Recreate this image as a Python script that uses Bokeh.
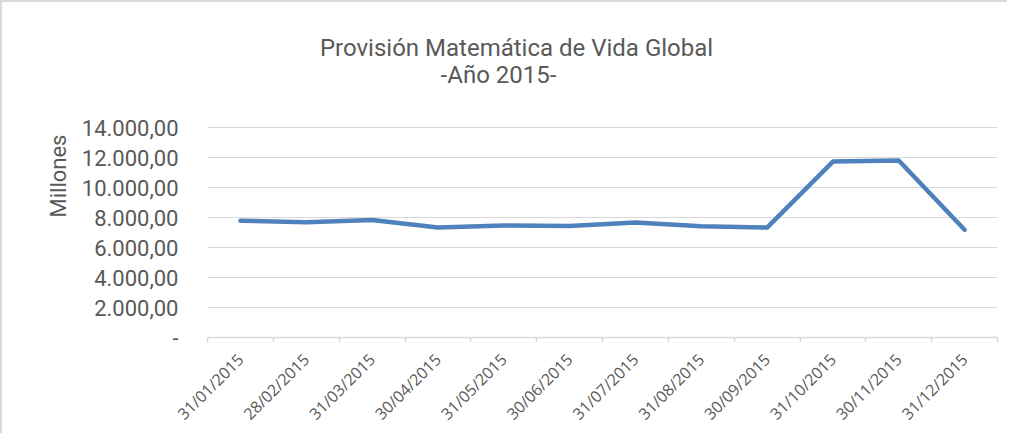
from bokeh.plotting import figure
from bokeh.models import Range1d, FixedTicker, Title, Label
from bokeh.embed import file_html
from bokeh.resources import INLINE
import math

# ---- data ----
categories = ["31/01/2015", "28/02/2015", "31/03/2015", "30/04/2015", "31/05/2015", "30/06/2015",
              "31/07/2015", "31/08/2015", "30/09/2015", "31/10/2015", "30/11/2015", "31/12/2015"]
values = [7780, 7690, 7840, 7330, 7470, 7440, 7660, 7420, 7330, 11730, 11800, 7180]
y_ticks = [0, 2000, 4000, 6000, 8000, 10000, 12000, 14000]
y_tick_labels = ["-", "2.000,00", "4.000,00", "6.000,00", "8.000,00", "10.000,00", "12.000,00", "14.000,00"]
title_lines = ["Provisión Matemática de Vida Global", "-Año 2015-"]
y_title = "Millones"

n = len(categories)
xs = [i + 0.5 for i in range(n)]

FONT = "Roboto"
TXT = "#595959"
GRID = "#d9d9d9"

# frame runs up to the top of the chart so the title can sit inside it;
# grid lines / ticks only exist for the y_ticks values
p = figure(width=1007, height=433, output_backend="svg", toolbar_location=None,
           x_range=Range1d(0, n), y_range=Range1d(0, 21667),
           min_border_left=205, min_border_right=12, min_border_top=10, min_border_bottom=98,
           tools="", styles={"border-left": "2px solid #d9d9d9", "border-top": "2px solid #d9d9d9"})
p.outline_line_color = None
p.background_fill_color = "white"
p.title.visible = False

p.line(xs, values, line_color="#4f81bd", line_width=4.5, line_join="round", line_cap="round")

# y axis
p.yaxis.ticker = FixedTicker(ticks=y_ticks)
p.yaxis.major_label_overrides = {t: l for t, l in zip(y_ticks, y_tick_labels)}
p.yaxis.axis_line_color = None
p.yaxis.major_tick_line_color = None
p.yaxis.minor_tick_line_color = None
p.yaxis.major_tick_in = 0
p.yaxis.major_tick_out = 0
p.yaxis.major_label_standoff = 29
p.yaxis.major_label_text_font = FONT
p.yaxis.major_label_text_font_size = "22px"
p.yaxis.major_label_text_color = TXT

# x axis
p.xaxis.ticker = FixedTicker(ticks=xs, minor_ticks=list(range(n + 1)))
p.xaxis.major_label_overrides = {x: c for x, c in zip(xs, categories)}
p.xaxis.major_label_orientation = math.pi / 4
p.xaxis.axis_line_color = GRID
p.xaxis.axis_line_width = 1.5
p.xaxis.major_tick_line_color = None
p.xaxis.major_tick_in = 0
p.xaxis.major_tick_out = 0
p.xaxis.minor_tick_line_color = GRID
p.xaxis.minor_tick_line_width = 1.5
p.xaxis.minor_tick_in = 0
p.xaxis.minor_tick_out = 5
p.xaxis.major_label_standoff = 14
p.xaxis.major_label_text_font = "Open Sans"
p.xaxis.major_label_text_font_size = "16px"
p.xaxis.major_label_text_color = TXT

p.xgrid.grid_line_color = None
p.ygrid.grid_line_color = GRID
p.ygrid.grid_line_width = 1.2

# chart title (inside the tall frame, above the 14.000 grid line)
p.add_layout(Label(x=4.694, y=19333, text=title_lines[0], text_align="center",
                   text_baseline="alphabetic", text_font=FONT, text_font_size="24px",
                   text_color=TXT))
p.add_layout(Label(x=4.42, y=17467, text=title_lines[1], text_align="center",
                   text_baseline="alphabetic", text_font=FONT, text_font_size="24px",
                   text_color=TXT))

# axis title
p.add_layout(Title(text=y_title, align="left", offset=120, text_font=FONT,
                   text_font_size="22px", text_font_style="normal", text_color=TXT,
                   standoff=16), "left")

open("out.html", "w").write(file_html(p, INLINE))
